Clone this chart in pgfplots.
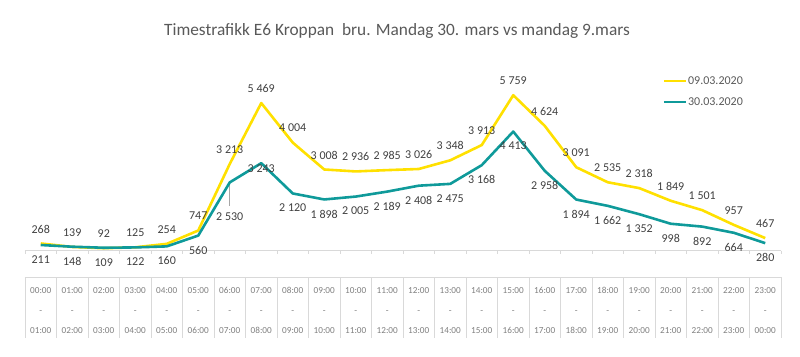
\documentclass[border=0pt]{standalone}
\usepackage{pgfplots}
\usepackage{pgfplotstable}
\pgfplotsset{compat=1.18}
\usepackage{fontspec}
\setmainfont{Carlito}
\definecolor{cyellow}{HTML}{FFE000}
\definecolor{cteal}{HTML}{0F9A9A}
\definecolor{gridgray}{HTML}{D9D9D9}
\definecolor{labgray}{HTML}{404040}
\definecolor{titlegray}{HTML}{595959}
\definecolor{tickgray}{HTML}{7F7F7F}

\pgfplotstableread{
x y
0.5 268
1.5 139
2.5 92
3.5 125
4.5 254
5.5 747
6.5 3213
7.5 5469
8.5 4004
9.5 3008
10.5 2936
11.5 2985
12.5 3026
13.5 3348
14.5 3913
15.5 5759
16.5 4624
17.5 3091
18.5 2535
19.5 2318
20.5 1849
21.5 1501
22.5 957
23.5 467
}\tabA

\pgfplotstableread{
x y dy
0.5 211 -14.5
1.5 148 -14.5
2.5 109 -14.5
3.5 122 -14.5
4.5 160 -14.5
5.5 560 -14.5
6.5 2530 -34.3
7.5 3243 -5.2
8.5 2120 -14.5
9.5 1898 -14.5
10.5 2005 -14.5
11.5 2189 -14.5
12.5 2408 -14.5
13.5 2475 -14.5
14.5 3168 -14.5
15.5 4413 -14.5
16.5 2958 -14.5
17.5 1894 -14.5
18.5 1662 -14.5
19.5 1352 -14.5
20.5 998 -14.5
21.5 892 -14.5
22.5 664 -14.5
23.5 280 -14.5
}\tabB

\begin{document}
\begin{tikzpicture}
\path[use as bounding box] (0pt,0pt) rectangle (800pt,356pt);
\node[font=\fontsize{17.3}{20}\selectfont, text=titlegray, anchor=base] at (397pt,320pt) {Timestrafikk E6 Kroppan\ \ bru. Mandag 30. mars vs mandag 9.mars};
\begin{axis}[
  at={(25pt,105.3pt)}, anchor=south west,
  scale only axis, width=756pt, height=189pt,
  xmin=0, xmax=24, ymin=0, ymax=7000,
  clip=false,
  axis y line=none,
  axis x line*=bottom,
  x axis line style={draw=gridgray, line width=0.8pt, -},
  ytick={1000,2000,...,7000},
  ymajorgrids,
  grid style={draw=gridgray, line width=0.8pt},
  xtick={0.5,1.5,...,23.5},
  x tick style={draw=none},
  xticklabels={{00:00\\-\\01:00},{01:00\\-\\02:00},{02:00\\-\\03:00},{03:00\\-\\04:00},{04:00\\-\\05:00},{05:00\\-\\06:00},{06:00\\-\\07:00},{07:00\\-\\08:00},{08:00\\-\\09:00},{09:00\\-\\10:00},{10:00\\-\\11:00},{11:00\\-\\12:00},{12:00\\-\\13:00},{13:00\\-\\14:00},{14:00\\-\\15:00},{15:00\\-\\16:00},{16:00\\-\\17:00},{17:00\\-\\18:00},{18:00\\-\\19:00},{19:00\\-\\20:00},{20:00\\-\\21:00},{21:00\\-\\22:00},{22:00\\-\\23:00},{23:00\\-\\00:00}},
  xticklabel style={align=center, anchor=center, yshift=-60pt, font=\fontsize{9.2}{20}\selectfont, text=tickgray},
  /pgf/number format/assume math mode=true,
  legend style={at={(0.843,0.926)}, anchor=north west, draw=none, fill=none, inner sep=0pt,
    font=\fontsize{12}{14}\selectfont, text=titlegray, row sep=11pt,
    nodes={text height=8pt, text depth=0pt, inner sep=1pt}},
  legend cell align=left,
  legend image code/.code={\draw[#1] (0pt,0pt) -- (22pt,0pt);},
  nodes near coords={\pgfmathprintnumber[fixed, precision=0, 1000 sep={\ }]{\pgfplotspointmeta}},
  nodes near coords style={font=\fontsize{12}{14}\selectfont, text=labgray, anchor=center, inner sep=0pt},
]
\pgfplotsinvokeforeach{0,...,24}{
  \draw[gridgray, line width=0.8pt] (axis cs:#1,0) -- ([yshift=-3.5pt]axis cs:#1,0);
  \draw[gridgray, line width=0.8pt] ([yshift=-26.3pt]axis cs:#1,0) -- ([yshift=-87.3pt]axis cs:#1,0);
}
\draw[gridgray, line width=0.8pt] ([yshift=-26.3pt]axis cs:0,0) -- ([yshift=-26.3pt]axis cs:24,0);
\draw[gray!70, line width=0.7pt] ([yshift=-1pt]axis cs:6.5,2530) -- ([yshift=-24pt]axis cs:6.5,2530);
\addplot[cyellow, line width=2.6pt, line join=round, mark=none, point meta=y,
  every node near coord/.append style={yshift=14.5pt}] table[x=x, y=y] {\tabA};
\addlegendentry{09.03.2020}
\addplot[cteal, line width=2.6pt, line join=round, mark=none, point meta=y,
  visualization depends on={\thisrow{dy} \as \dy},
  every node near coord/.append style={yshift=\dy pt}] table[x=x, y=y] {\tabB};
\addlegendentry{30.03.2020}
\end{axis}
\end{tikzpicture}
\end{document}
